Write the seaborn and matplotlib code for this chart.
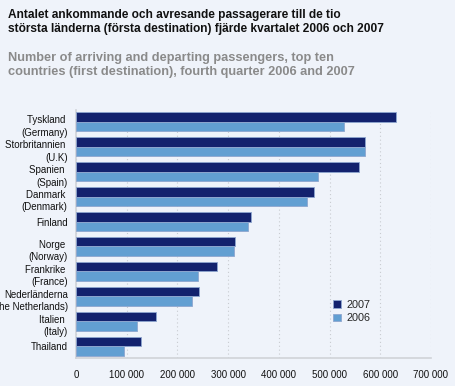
import matplotlib
matplotlib.use('Agg')
import matplotlib.pyplot as plt
import matplotlib.transforms as mtransforms
import seaborn as sns
import pandas as pd
from matplotlib.ticker import FuncFormatter

countries = ['Tyskland \n(Germany)', 'Storbritannien \n(U.K)', 'Spanien \n(Spain)',
             'Danmark \n(Denmark)', 'Finland', 'Norge \n(Norway)', 'Frankrike \n(France)',
             'Nederländerna\n(The Netherlands)', 'Italien \n(Italy)', 'Thailand']
values_2007 = [631000, 570000, 558000, 469000, 345000, 313000, 278000, 242000, 157000, 129000]
values_2006 = [529000, 570000, 477000, 456000, 340000, 312000, 240000, 229000, 120000, 94000]
years = ['2007', '2006']
xticks = [0, 100000, 200000, 300000, 400000, 500000, 600000, 700000]

df = pd.DataFrame({'country': countries * 2,
                   'year': [years[0]] * len(countries) + [years[1]] * len(countries),
                   'value': values_2007 + values_2006})

bg = '#eff3fa'
sns.set_style('white')
plt.rcParams['font.family'] = ['Liberation Sans', 'DejaVu Sans']

fig = plt.figure(figsize=(4.56, 3.86), dpi=100, facecolor=bg)
ax = fig.add_axes([76/456, 1 - 358/386, (431 - 76)/456, (358 - 110)/386])
ax.set_facecolor(bg)

sns.barplot(data=df, y='country', x='value', hue='year', orient='h',
            palette=['#13226e', '#629fd2'], saturation=1, width=0.75, gap=0,
            edgecolor='#8ea6cf', linewidth=0.6, ax=ax, zorder=3)

ax.set_xlim(0, 700000)
ax.set_ylim(9.47, -0.47)
ax.set_xticks(xticks)
ax.xaxis.set_major_formatter(FuncFormatter(lambda v, p: f'{int(v):,}'.replace(',', ' ')))
ax.grid(axis='x', color='#c8cbd0', linestyle=(0, (1, 2.5)), linewidth=0.8, zorder=0)
ax.tick_params(axis='both', length=0, labelsize=7, colors='#111111')
ax.tick_params(axis='x', pad=9)
ax.tick_params(axis='y', pad=6)
# two-line labels sit a bit lower than the bar group centre in the original
shift = mtransforms.ScaledTranslation(0, -2.5/100, fig.dpi_scale_trans)
for lbl in ax.get_yticklabels():
    lbl.set_multialignment('right')
    lbl.set_linespacing(1.3)
    if '\n' in lbl.get_text():
        lbl.set_transform(lbl.get_transform() + shift)
ax.set_xlabel('')
ax.set_ylabel('')
for s in ['top', 'right']:
    ax.spines[s].set_visible(False)
for s in ['left', 'bottom']:
    ax.spines[s].set_color('#d0d3d8')
    ax.spines[s].set_linewidth(1.2)

ax.legend(loc='upper left', bbox_to_anchor=(0.697, 0.273), frameon=False,
          fontsize=7.8, handlelength=0.7, handleheight=0.7,
          handletextpad=0.5, labelspacing=0.3)

fig.text(8/456, 1 - 9/386, 'Antalet ankommande och avresande passagerare till de tio\n'
         'största länderna (första destination) fjärde kvartalet 2006 och 2007',
         fontsize=8.6, fontweight='bold', color='#111111', va='top', linespacing=1.2)
fig.text(8/456, 1 - 52/386, 'Number of arriving and departing passengers, top ten\n'
         'countries (first destination), fourth quarter 2006 and 2007',
         fontsize=9.2, fontweight='bold', color='#8a8a8a', va='top', linespacing=1.2)

fig.savefig('out.png', dpi=100, facecolor=bg)
